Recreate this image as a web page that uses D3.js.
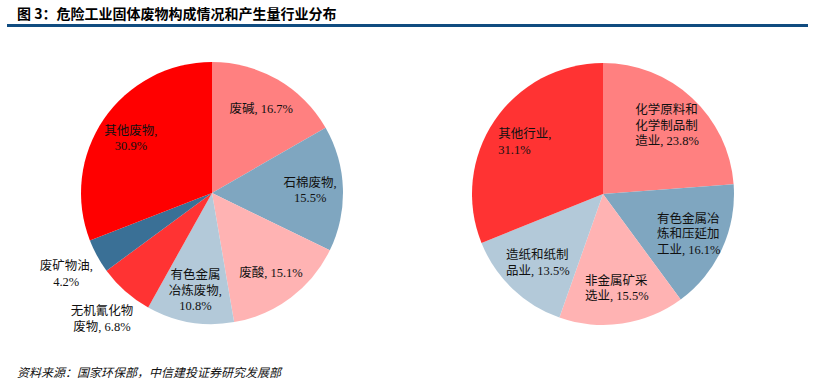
<!DOCTYPE html>
<html>
<head>
<meta charset="utf-8">
<script src="https://cdn.jsdelivr.net/npm/d3@7"></script>
<style>
  body { margin: 0; background: #fff; }
  svg { display: block; }
  .title { font-family: "Noto Sans CJK SC", sans-serif; font-weight: bold; font-size: 14px; fill: #000; }
  .lbl { font-family: "Liberation Serif", "Noto Sans CJK SC", serif; font-size: 12.5px; fill: #111; }
  .src { font-family: "Noto Sans CJK SC", sans-serif; font-style: italic; font-size: 12px; fill: #111; }
</style>
</head>
<body>
<svg id="chart" width="823" height="388"></svg>
<script>
// left pie: composition of hazardous industrial solid waste
const wasteTypes = ['废碱, 16.7%', '石棉废物,\n15.5%', '废酸, 15.1%', '有色金属\n冶炼废物,\n10.8%',
  '无机氰化物\n废物, 6.8%', '废矿物油,\n4.2%', '其他废物,\n30.9%'];
const wasteShares = [16.7, 15.5, 15.1, 10.8, 6.8, 4.2, 30.9];
const wasteColors = ['#ff8080', '#7fa6c0', '#ffb3b3', '#b3c9d9', '#ff3333', '#3a7096', '#ff0000'];

// right pie: output by industry
const industries = ['化学原料和\n化学制品制\n造业, 23.8%', '有色金属冶\n炼和压延加\n工业, 16.1%',
  '非金属矿采\n选业, 15.5%', '造纸和纸制\n品业, 13.5%', '其他行业,\n31.1%'];
const industryShares = [23.8, 16.1, 15.5, 13.5, 31.1];
const industryColors = ['#ff8080', '#7fa6c0', '#ffb3b3', '#b3c9d9', '#ff3333'];

const svg = d3.select('#chart');

svg.append('text').attr('class', 'title').attr('x', 17).attr('y', 19)
  .text('图 3：危险工业固体废物构成情况和产生量行业分布');
svg.append('line').attr('x1', 7).attr('x2', 808).attr('y1', 25.5).attr('y2', 25.5)
  .attr('stroke', '#104c80').attr('stroke-width', 3);

svg.append('text').attr('class', 'src').attr('x', 17).attr('y', 377)
  .text('资料来源：国家环保部，中信建投证券研究发展部');

const R = 131;

function drawPie(cx, cy, names, values, colors, opts) {
  const g = svg.append('g').attr('transform', `translate(${cx},${cy})`);
  const pie = d3.pie().sort(null).value(d => d.v);
  const arcs = pie(values.map((v, i) => ({v, name: names[i], color: colors[i]})));
  const arc = d3.arc().innerRadius(0).outerRadius(R);

  g.selectAll('path').data(arcs).enter().append('path')
    .attr('d', arc)
    .attr('fill', d => d.data.color);

  const inArc = d3.arc().innerRadius(opts.inR * R).outerRadius(opts.inR * R);
  const outArc = d3.arc().innerRadius(1.27 * R).outerRadius(1.27 * R);

  const lh = 15.5;
  g.selectAll('text.lbl').data(arcs).enter().append('text')
    .attr('class', 'lbl')
    .attr('text-anchor', opts.anchor)
    .each(function(d) {
      const c = d.data.v < 8 ? outArc.centroid(d) : inArc.centroid(d);
      const lines = d.data.name.split('\n');
      const el = d3.select(this);
      const spans = lines.map((l, i) => el.append('tspan')
        .attr('x', c[0])
        .attr('y', c[1] + (i - (lines.length - 1) / 2) * lh + 5)
        .text(l));
      if (opts.anchor === 'start') {
        const w = this.getBBox().width;
        spans.forEach(s => s.attr('x', c[0] - w / 2));
      }
    });
}

drawPie(212, 193, wasteTypes, wasteShares, wasteColors, {inR: 0.75, anchor: 'middle'});
drawPie(603, 194, industries, industryShares, industryColors, {inR: 0.72, anchor: 'start'});
</script>
</body>
</html>
